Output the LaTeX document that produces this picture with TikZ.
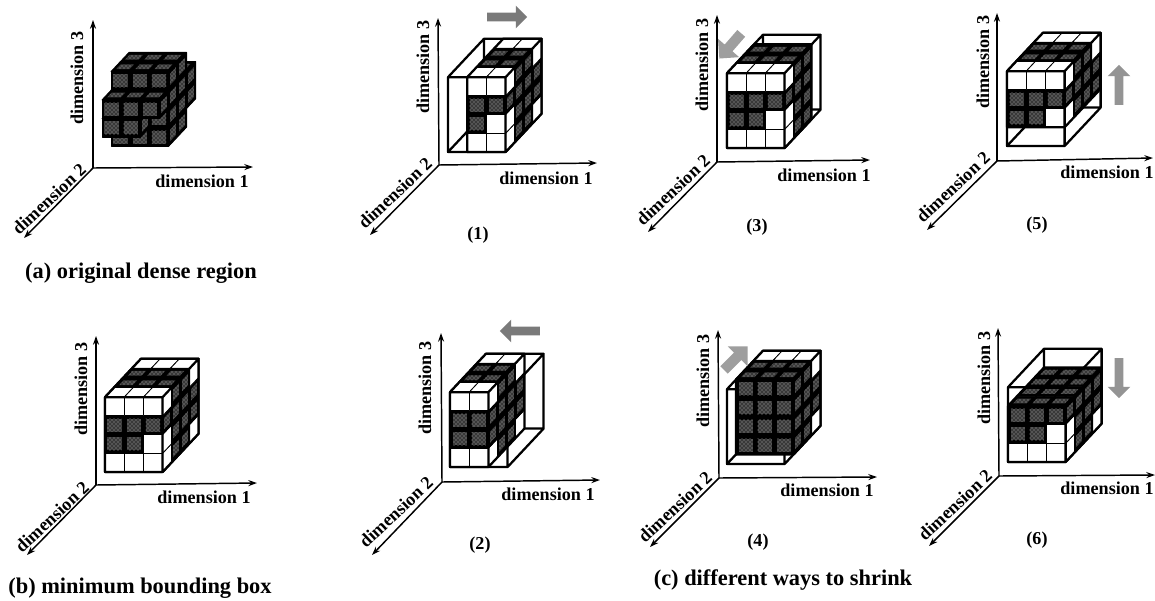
\documentclass[tikz,border=0pt]{standalone}
\usepackage{fontspec}
\setmainfont{Liberation Serif}
\usetikzlibrary{arrows.meta,shapes.arrows,patterns}
\tikzset{
  axisline/.style={line width=1.1pt,-{Stealth[length=6.5pt,width=4.5pt]}},
  dimlabel/.style={inner sep=0pt,font=\fontsize{13.6}{15}\selectfont\bfseries},
  numlabel/.style={inner sep=0pt,font=\fontsize{13.6}{15}\selectfont\bfseries},
  caption/.style={inner sep=0pt,font=\fontsize{16.8}{19}\selectfont\bfseries},
  frameline/.style={line width=1.7pt,line join=round,line cap=round},
  whitecell/.style={draw=black,fill=white,line width=.6pt,line join=round},
  darkcell/.style={draw=black,fill=black,line width=.6pt,line join=round},
  speck/.style={fill=black!78,draw=none,postaction={pattern=crosshatch dots,pattern color=black!30}},
  grayarrow/.style={single arrow,draw=none,fill=black!52,inner sep=3pt,
    minimum height=30pt,minimum width=17pt,single arrow head extend=5pt},
  palearrow/.style={grayarrow,fill=black!38,inner sep=3.6pt,minimum height=25pt,
    minimum width=21pt,single arrow head extend=6.5pt},
  cellgrid/.style={shift={(#1)},x={(14.4pt,0pt)},y={(0pt,14.03pt)},z={(6.75pt,7.2pt)}}
}
\newcommand\celldark[3]{\pgfmathtruncatemacro\dk{((#3==1)||(#3==2)||(#2==2)||((#2==1)&&((#3!=0)||(#1!=2))))?1:0}}
\newcommand\frontface[3]{\celldark{#1}{#2}{#3}%
  \ifnum\dk=1
    \filldraw[darkcell] (#1,#2,#3)--(#1+1,#2,#3)--(#1+1,#2+1,#3)--(#1,#2+1,#3)--cycle;
    \fill[speck] (#1+.13,#2+.15,#3)--(#1+.87,#2+.15,#3)--(#1+.87,#2+.85,#3)--(#1+.13,#2+.85,#3)--cycle;
  \else
    \filldraw[whitecell] (#1,#2,#3)--(#1+1,#2,#3)--(#1+1,#2+1,#3)--(#1,#2+1,#3)--cycle;
  \fi}
\newcommand\sideface[3]{\celldark{#1}{#2}{#3}%
  \ifnum\dk=1
    \filldraw[darkcell] (#1+1,#2,#3)--(#1+1,#2,#3+1)--(#1+1,#2+1,#3+1)--(#1+1,#2+1,#3)--cycle;
    \fill[speck] (#1+1,#2+.2,#3+.18)--(#1+1,#2+.2,#3+.82)--(#1+1,#2+.8,#3+.82)--(#1+1,#2+.8,#3+.18)--cycle;
  \else
    \filldraw[whitecell] (#1+1,#2,#3)--(#1+1,#2,#3+1)--(#1+1,#2+1,#3+1)--(#1+1,#2+1,#3)--cycle;
  \fi}
\newcommand\topface[3]{\celldark{#1}{#2}{#3}%
  \ifnum\dk=1
    \filldraw[darkcell] (#1,#2+1,#3)--(#1+1,#2+1,#3)--(#1+1,#2+1,#3+1)--(#1,#2+1,#3+1)--cycle;
    \fill[speck] (#1+.15,#2+1,#3+.25)--(#1+.85,#2+1,#3+.25)--(#1+.85,#2+1,#3+.75)--(#1+.15,#2+1,#3+.75)--cycle;
  \else
    \filldraw[whitecell] (#1,#2+1,#3)--(#1+1,#2+1,#3)--(#1+1,#2+1,#3+1)--(#1,#2+1,#3+1)--cycle;
  \fi}
% wire frame of the whole 3x4x4 box
\newcommand\wirebox{%
  \draw[frameline] (0,0,0)--(3,0,0)--(3,4,0)--(0,4,0)--cycle
    (0,4,0)--(0,4,4)--(3,4,4)--(3,4,0)
    (3,0,0)--(3,0,4)--(3,4,4)
    (0,0,0)--(0,0,4)--(3,0,4)
    (0,0,4)--(0,4,4);}
% block: base x,y ; imin imax jmin jmax kmin kmax
\newcommand\block[8]{%
  \begin{scope}[cellgrid={#1,#2}]
    \wirebox
    \pgfmathtruncatemacro\iend{#4-1}\pgfmathtruncatemacro\jend{#6-1}\pgfmathtruncatemacro\kend{#8-1}
    \foreach \ci in {#3,...,\iend}{\foreach \cj in {#5,...,\jend}{\frontface{\ci}{\cj}{#7}}}
    \foreach \ck in {#7,...,\kend}{\foreach \cj in {#5,...,\jend}{\sideface{\iend}{\cj}{\ck}}}
    \foreach \ci in {#3,...,\iend}{\foreach \ck in {#7,...,\kend}{\topface{\ci}{\jend}{\ck}}}
    \draw[frameline] (#3,#5,#7)--(#4,#5,#7)--(#4,#6,#7)--(#3,#6,#7)--cycle
      (#3,#6,#7)--(#3,#6,#8)--(#4,#6,#8)--(#4,#6,#7)
      (#4,#5,#7)--(#4,#5,#8)--(#4,#6,#8);
  \end{scope}}
% axes: name, origin, up end, right end, down-left end, label centres for dim 3, 1, 2
\newcommand\axes[8]{%
  \coordinate (#1o) at (#2);
  \coordinate (#1u) at (#3);
  \coordinate (#1r) at (#4);
  \coordinate (#1d) at (#5);
  \draw[axisline] (#1o) -- (#1u);
  \draw[axisline] (#1o) -- (#1r);
  \draw[axisline] (#1o) -- (#1d);
  \node[dimlabel,rotate=90] (#1la) at (#6) {dimension 3};
  \node[dimlabel] (#1lb) at (#7) {dimension 1};
  \node[dimlabel,rotate=43] (#1lc) at (#8) {dimension 2};}
\begin{document}
\begin{tikzpicture}[x=.75pt,y=-.75pt]
\useasboundingbox (0,0) rectangle (1155,600);
\fill[white] (0,0) rectangle (1155,600);

% (a) original dense region
\axes{a}{93,168}{93,20}{253,167}{24,238}{77,78}{202,181}{49,199}
\begin{scope}[cellgrid={102,156}]
  \foreach \ck in {3,2,1,0}{\foreach \cj in {0,1,2,3}{\foreach \ci in {0,1,2}{
    \celldark{\ci}{\cj}{\ck}%
    \ifnum\dk=1
      \sideface{\ci}{\cj}{\ck}\topface{\ci}{\cj}{\ck}\frontface{\ci}{\cj}{\ck}
    \fi}}}
\end{scope}
\node[caption] (capa) at (141,273) {(a) original dense region};

% (b) minimum bounding box
\axes{b}{96,485}{96,336}{257,483}{27,555}{81,389}{204,497}{52,517}
\block{105}{472}{0}{3}{0}{4}{0}{4}
\node[caption] (capb) at (140,588) {(b) minimum bounding box};

% (1)
\axes{p}{439,165}{438,18}{597,163}{370,235}{423,67}{546,178}{395,193}
\block{448}{152}{1}{3}{0}{4}{0}{4}
\node[grayarrow] (arra) at (505,17) {};
\node[numlabel] (numa) at (478,235) {(1)};

% (2)
\axes{q}{442,482}{441,333}{600,480}{372,555}{425,388}{548,494}{396,512}
\block{450}{467}{0}{2}{0}{4}{0}{4}
\node[grayarrow,rotate=180] (arrb) at (522,331) {};
\node[numlabel] (numb) at (480,545) {(2)};

% (3)
\axes{r}{717,162}{717,15}{870,160}{648,232}{702,65}{824,175}{673,190}
\block{727}{148}{0}{3}{0}{4}{0}{3}
\node[palearrow,rotate=229] (arrc) at (732,44) {};
\node[numlabel] (numc) at (757,227) {(3)};

% (4)
\axes{s}{719,478}{718,330}{877,477}{650,547}{703,381}{827,490}{675,507}
\block{727}{464}{0}{3}{0}{4}{1}{4}
\node[palearrow,rotate=45] (arrd) at (734,360) {};
\node[numlabel] (numd) at (758,542) {(4)};
\node[caption] (capc) at (783,580) {(c) different ways to shrink};

% (5)
\axes{t}{997,161}{997,13}{1153,158}{927,230}{983,62}{1107,172}{953,187}
\block{1007}{146}{0}{3}{1}{4}{0}{4}
\node[grayarrow,fill=black!42,rotate=90] (arre) at (1119,87) {};
\node[numlabel] (nume) at (1037,225) {(5)};

% (6)
\axes{u}{999,476}{998,328}{1155,475}{929,546}{984,378}{1107,488}{955,505}
\block{1008}{462}{0}{3}{0}{3}{0}{4}
\node[grayarrow,fill=black!42,rotate=270] (arrf) at (1119,376) {};
\node[numlabel] (numf) at (1037,540) {(6)};
\end{tikzpicture}
\end{document}
